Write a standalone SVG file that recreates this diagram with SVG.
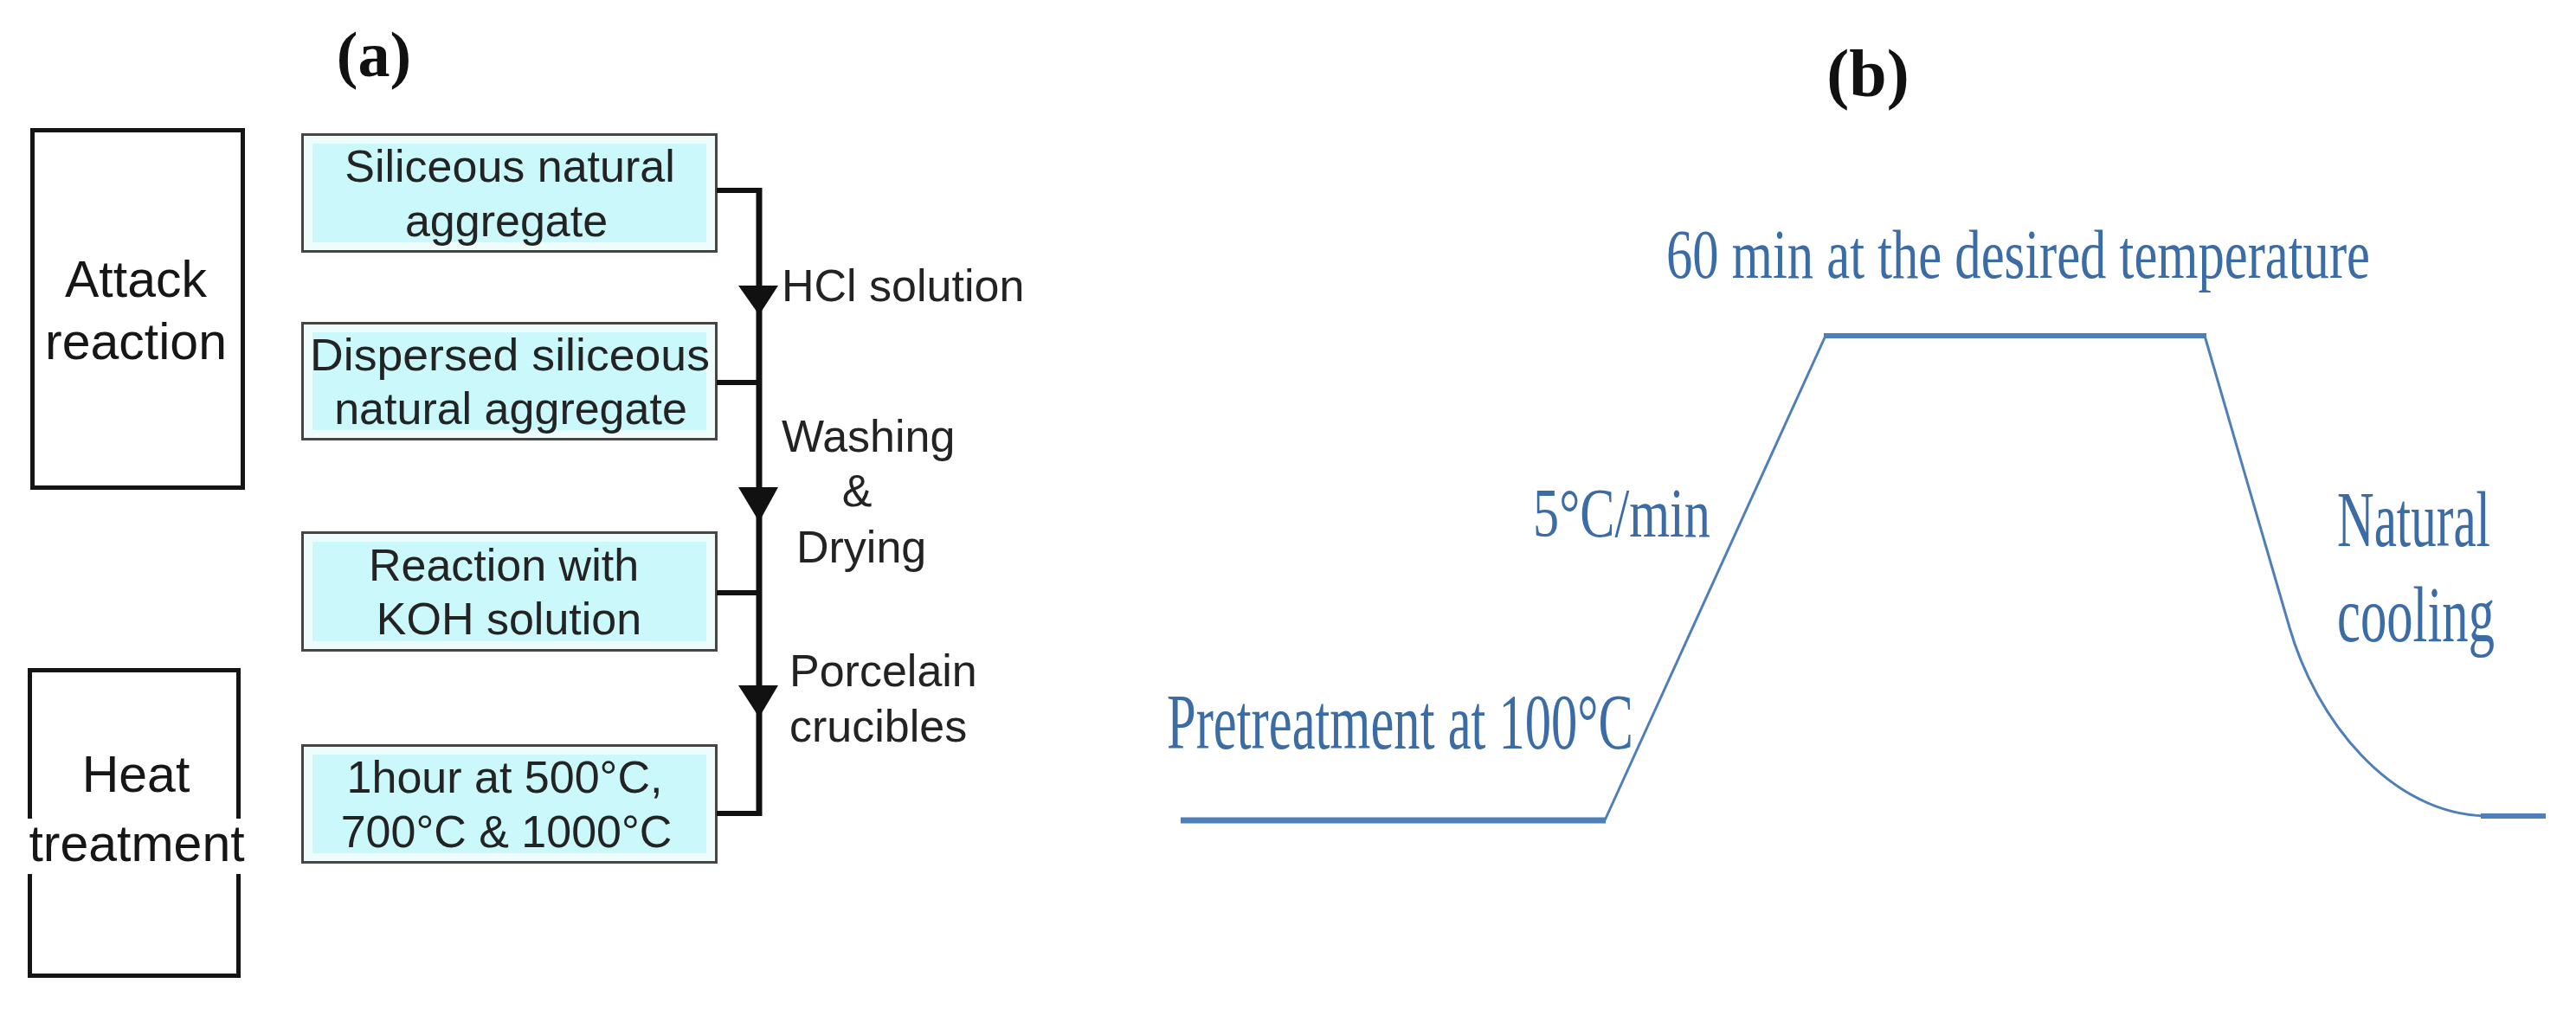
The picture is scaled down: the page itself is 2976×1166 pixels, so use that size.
<svg xmlns="http://www.w3.org/2000/svg" width="2976" height="1166" viewBox="0 0 2976 1166">
<defs>
<style>
.stage{fill:#ffffff;stroke:#141414;stroke-width:5}
.boxo{fill:#effcfc;stroke:#454545;stroke-width:3}
.boxi{fill:#cbf8fa;stroke:none}
.bt{font-family:"Liberation Sans",Arial,sans-serif;font-size:52px;fill:#232323;text-anchor:middle}
.st{font-family:"Liberation Sans",Arial,sans-serif;font-size:59px;fill:#161616;text-anchor:middle}
.lbl{font-family:"Liberation Sans",Arial,sans-serif;font-size:52px;fill:#232323}
.pl{font-family:"Liberation Serif","Times New Roman",serif;font-weight:bold;fill:#111;text-anchor:middle}
.conn{stroke:#111;stroke-width:7;fill:none}
.stub{stroke:#111;stroke-width:6;fill:none}
.head{fill:#111}
.bl{font-family:"Liberation Serif","Times New Roman",serif;fill:#3c6ca5}
.curve{stroke:#4f7fb8;fill:none;stroke-linecap:butt}
</style>
</defs>
<rect width="2976" height="1166" fill="#ffffff"/>

<text class="pl" x="432" y="88" font-size="74">(a)</text>
<text class="pl" x="2158" y="111" font-size="78">(b)</text>

<g id="attack-reaction">
<rect class="stage" x="37.5" y="150.5" width="243" height="413"/>
<text class="st" x="157" y="343">Attack</text>
<text class="st" x="157" y="415">reaction</text>
</g>

<g id="heat-treatment">
<rect class="stage" x="34.5" y="774.5" width="241" height="353"/>
<rect x="26" y="946" width="266" height="64" fill="#ffffff"/>
<text class="st" x="157" y="915">Heat</text>
<text class="st" x="158" y="995">treatment</text>
</g>

<g id="box-siliceous">
<rect class="boxo" x="349.5" y="155.5" width="478" height="135"/>
<rect class="boxi" x="361" y="166" width="455" height="114"/>
<text class="bt" x="589" y="210">Siliceous natural</text>
<text class="bt" x="585" y="273">aggregate</text>
</g>

<g id="box-dispersed">
<rect class="boxo" x="349.5" y="373.5" width="478" height="134"/>
<rect class="boxi" x="361" y="384" width="455" height="113"/>
<text class="bt" x="589" y="428" textLength="462" lengthAdjust="spacingAndGlyphs">Dispersed siliceous</text>
<text class="bt" x="590" y="490">natural aggregate</text>
</g>

<g id="box-koh">
<rect class="boxo" x="349.5" y="615.5" width="478" height="136"/>
<rect class="boxi" x="361" y="626" width="455" height="115"/>
<text class="bt" x="582" y="671">Reaction with</text>
<text class="bt" x="588" y="733">KOH solution</text>
</g>

<g id="box-heat">
<rect class="boxo" x="349.5" y="861.5" width="478" height="135"/>
<rect class="boxi" x="361" y="872" width="455" height="114"/>
<text class="bt" x="583" y="916">1hour at 500°C,</text>
<text class="bt" x="585" y="979">700°C &amp; 1000°C</text>
</g>

<g id="connectors">
<path class="conn" d="M877,217 V943"/>
<path class="stub" d="M828,220 H880 M828,442 H877 M828,685 H877 M828,940 H880"/>
<polygon class="head" points="853,330 899,330 877,364"/>
<polygon class="head" points="853,563 899,563 877,603"/>
<polygon class="head" points="853,792 899,792 877,829"/>
</g>

<g id="flow-labels">
<text class="lbl" x="903" y="348">HCl solution</text>
<text class="lbl" x="903" y="522">Washing</text>
<text class="lbl" x="990" y="585" text-anchor="middle">&amp;</text>
<text class="lbl" x="920" y="650">Drying</text>
<text class="lbl" x="912" y="793">Porcelain</text>
<text class="lbl" x="912" y="857">crucibles</text>
</g>

<g id="temperature-profile">
<path class="curve" stroke-width="7" d="M1364,948 H1855"/>
<path class="curve" stroke-width="3" d="M1854,948 L2109,388"/>
<path class="curve" stroke-width="6" d="M2107,388 H2549"/>
<path class="curve" stroke-width="3" d="M2547,388 L2645,725 C2675,830 2760,940 2871,943"/>
<path class="curve" stroke-width="6" d="M2866,943 H2941"/>
</g>

<g id="profile-labels">
<text class="bl" x="1925" y="321" font-size="80" textLength="813" lengthAdjust="spacingAndGlyphs">60 min at the desired temperature</text>
<text class="bl" x="1771" y="620" font-size="80" textLength="205" lengthAdjust="spacingAndGlyphs">5°C/min</text>
<text class="bl" x="1348" y="865" font-size="92" textLength="539" lengthAdjust="spacingAndGlyphs">Pretreatment at 100°C</text>
<text class="bl" x="2700" y="631" font-size="92" textLength="177" lengthAdjust="spacingAndGlyphs">Natural</text>
<text class="bl" x="2700" y="741" font-size="92" textLength="182" lengthAdjust="spacingAndGlyphs">cooling</text>
</g>
</svg>
